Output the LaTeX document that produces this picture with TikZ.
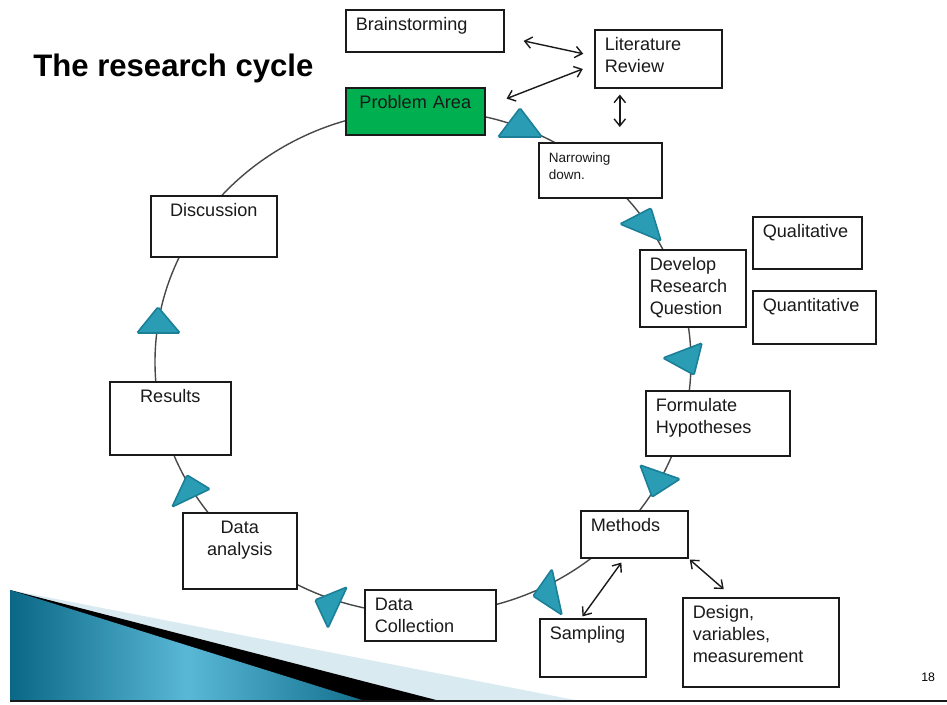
\documentclass[tikz,border=0pt]{standalone}
\usepackage{fontspec}
\setmainfont{Liberation Sans}
\usetikzlibrary{arrows.meta}
\definecolor{ink}{HTML}{1A1A1A}
\definecolor{leaf}{HTML}{00B050}
\definecolor{marker}{HTML}{2A9DB5}
\definecolor{markeredge}{HTML}{1B7F98}
\definecolor{deepsea}{HTML}{0A6886}
\definecolor{shallow}{HTML}{5AB8D7}
\definecolor{mist}{HTML}{D9EAF1}

\begin{document}
\begin{tikzpicture}[
    x=0.2mm, y=-0.2mm,
    font=\fontsize{10.3}{12.5}\selectfont,
    stage/.style={draw=ink, fill=white, line width=0.9pt, anchor=north west, align=left,
        inner xsep=0.2cm, inner ysep=0pt, text height=0.42cm, text=ink},
    ring/.style={draw=ink!80, line width=0.8pt},
    tri/.style={fill=marker, draw=markeredge, line width=0.9pt, rounded corners=0.8pt},
    link/.style={draw=ink, line width=0.8pt, <->, >={Straight Barb[length=4pt,width=6.5pt]}}
]
\useasboundingbox (0,0) rectangle (947,704);

% slide decoration, bottom left
\fill[mist] (10,590) -- (580,701) -- (10,701) -- cycle;
\fill[black] (10,590) -- (440,701) -- (10,701) -- cycle;
\shade[left color=deepsea, right color=deepsea!90!shallow, middle color=shallow]
    (10,590) -- (365,701) -- (10,701) -- cycle;
\draw[ink, line width=1.6pt] (10,701) -- (947,701);

\node[font=\fontsize{17.7}{21}\selectfont\bfseries, anchor=base west, inner sep=0pt] (title)
    at (33,77) {The research cycle};
\node[font=\fontsize{7}{8}\selectfont, anchor=base west, inner sep=0pt] (page) at (921,681) {18};

% the cycle
\coordinate (hub) at (423,362);
\draw[ring] (hub) ellipse [x radius=5.36cm, y radius=5.04cm];

\node[stage, text width=2.76cm, text depth=0.42cm] (brain) at (345,9) {Brainstorming};
\node[stage, text width=2.14cm, text depth=0.74cm] (lit) at (594,29) {Literature\\Review};
\node[stage, fill=leaf, align=center, text width=2.38cm, text depth=0.52cm] (prob) at (345,87) {Problem Area};
\node[stage, font=\fontsize{7.7}{9.5}\selectfont, text height=0.4cm, text width=2.06cm, text depth=0.70cm]
    (narrow) at (538,142) {Narrowing\\down.};
\node[stage, text width=1.78cm, text depth=0.62cm] (qual) at (752,216) {Qualitative};
\node[stage, text width=1.72cm, text depth=1.12cm] (dev) at (639,249) {Develop\\Research\\Question};
\node[stage, text width=2.06cm, text depth=0.64cm] (quant) at (752,290) {Quantitative};
\node[stage, text width=2.48cm, text depth=0.88cm] (form) at (645,390) {Formulate\\Hypotheses};
\node[stage, text width=1.74cm, text depth=0.52cm] (meth) at (580,510) {Methods};
\node[stage, text width=2.72cm, text depth=1.36cm] (design) at (682,597) {Design,\\variables,\\measurement};
\node[stage, text width=1.72cm, text depth=0.74cm] (samp) at (539,618) {Sampling};
\node[stage, text width=2.22cm, text depth=0.60cm] (coll) at (364,589) {Data\\Collection};
\node[stage, align=center, text width=1.88cm, text depth=1.10cm] (anal) at (182,512) {Data\\analysis};
\node[stage, align=center, text width=2.02cm, text depth=1.04cm] (res) at (109,381) {Results};
\node[stage, align=center, text width=2.12cm, text depth=0.80cm] (disc) at (150,195) {Discussion};

% markers on the ring
\foreach \ax/\ay/\bx/\by/\cx/\cy in {498/137/542/137/520/108, 620/224/651/208/661/241,
    663/358/702/343/694/375, 640/465/680/479/652/497, 533/596/552/569/562/615,
    347/587/315/600/328/628, 187/475/210/489/172/507, 158/307/137/333/180/333}
    \draw[tri] (\ax,\ay) -- (\bx,\by) -- (\cx,\cy) -- cycle;

% two-way links
\draw[link, shorten <=0.39cm, shorten >=0.22cm] ([yshift=-0.12cm]brain.east) -- ([yshift=0.054cm]lit.west);
\draw[link, shorten <=0.24cm, shorten >=0.45cm] ([yshift=-0.116cm]lit.west) -- ([yshift=0.09cm]prob.east);
\draw[link, shorten <=0.12cm, shorten >=0.3cm] ([xshift=-0.77cm]lit.south) -- ([xshift=-0.77cm]lit.south |- narrow.north);
\draw[link, shorten <=0.1cm, shorten >=0.04cm] ([xshift=-0.2cm]meth.south) -- ([xshift=-0.23cm]samp.north);
\draw[link, shorten <=0.03cm, shorten >=0.24cm] (meth.south east) -- ([xshift=-0.56cm]design.north);
\end{tikzpicture}
\end{document}
